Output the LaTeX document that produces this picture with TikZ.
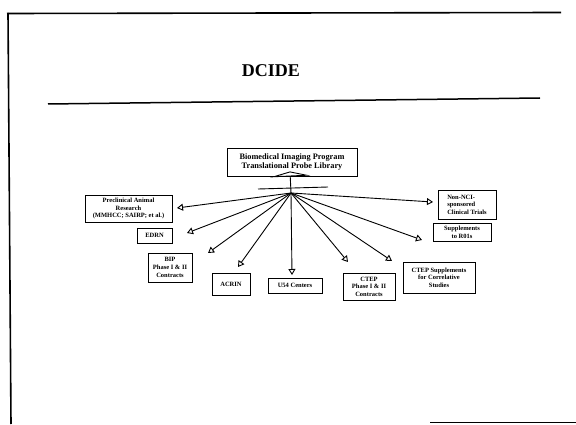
\documentclass[tikz,border=0pt]{standalone}
\usepackage{fontspec}
\setmainfont{Liberation Serif}
\usetikzlibrary{arrows.meta}
\begin{document}
\begin{tikzpicture}[x=1pt,y=1pt,
  box/.style={draw, line width=0.9pt, align=center, inner sep=1pt,
    font=\bfseries\fontsize{6.5}{7.6}\selectfont},
  conn/.style={line width=0.9pt, -{Triangle[open,width=7pt,length=6pt,line width=0.9pt]}},
  framestyle/.style={line width=1.6pt}]
\useasboundingbox (0,0) rectangle (576,424);
% frame
\coordinate (f1) at (7,410.5);
\coordinate (f2) at (561,411.5);
\coordinate (f0) at (8,411);
\coordinate (f3) at (11,0);
\coordinate (f4) at (430,1.5);
\coordinate (f5) at (576,1.5);
\draw[framestyle] (f1) -- (f2);
\draw[framestyle] (f0) -- (f3);
\draw[framestyle] (f4) -- (f5);
% title
\node[font=\bfseries\fontsize{18}{20}\selectfont] (title) at (271,353) {DCIDE};
\coordinate (r1) at (48,320);
\coordinate (r2) at (540,326);
\draw[line width=1.5pt] (r1) -- (r2);
% boxes
\node[box, minimum width=130pt, minimum height=28pt, font=\bfseries\fontsize{8.3}{9.5}\selectfont] (main) at (292,262)
  {Biomedical Imaging Program\\Translational Probe Library};
\node[box, minimum width=87pt, minimum height=27pt] (pre) at (128.5,215.5)
  {Preclinical Animal\\Research\\(MMHCC; SAIRP; et al.)};
\node[box, minimum width=35pt, minimum height=15pt] (edrn) at (154.5,188.5) {EDRN};
\node[box, minimum width=44pt, minimum height=29pt] (bip) at (170,156.5) {BIP\\Phase I \& II\\Contracts};
\node[box, minimum width=38pt, minimum height=22pt] (acrin) at (231,140) {ACRIN};
\node[box, minimum width=54pt, minimum height=15pt] (u54) at (295,138.5) {U54 Centers};
\node[box, minimum width=52pt, minimum height=27pt] (ctep) at (369,137.5) {CTEP\\Phase I \& II\\Contracts};
\node[box, minimum width=72pt, minimum height=31pt] (cs) at (439,146.5) {CTEP Supplements\\for Correlative\\Studies};
\node[box, minimum width=58pt, minimum height=18pt] (r01) at (462,192) {Supplements\\to R01s};
\node[box, minimum width=58pt, minimum height=29pt, align=left] (non) at (467,219.5) {Non-NCI-\\sponsored\\Clinical Trials};
% hub
\coordinate (hub) at (291,231);
\coordinate (hx1) at (258,235);
\coordinate (hx2) at (328,237);
\draw[line width=0.9pt] (hx1) -- (hx2);
\draw[line width=0.9pt, -{Triangle[open,width=40pt,length=5pt,line width=0.9pt]}] (hub) -- ([shift={(-2,5)}]main.south);
% arrow tips near boxes
\coordinate (tpre) at (177,216);
\coordinate (tedrn) at (187,191);
\coordinate (tbip) at (208,171);
\coordinate (tacrin) at (238,157);
\coordinate (tu54) at (292,149);
\coordinate (tctep) at (348,162);
\coordinate (tcs) at (392,163);
\coordinate (tr01) at (422,184);
\coordinate (tnon) at (433,222);
\foreach \t in {tpre,tedrn,tbip,tacrin,tu54,tctep,tcs,tr01,tnon}
  \draw[conn] (hub) -- (\t);
\end{tikzpicture}
\end{document}
